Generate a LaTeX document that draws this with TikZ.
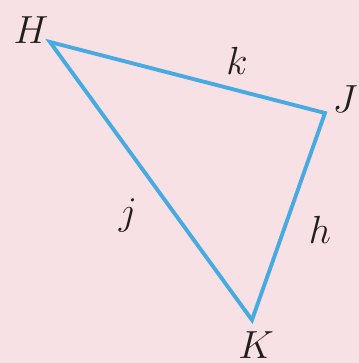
\documentclass[tikz,border=0pt]{standalone}
\definecolor{bgpink}{RGB}{248,225,229}
\definecolor{sideblue}{RGB}{72,170,226}
\definecolor{inkdark}{RGB}{35,30,30}
\newcommand{\vlab}[1]{\scalebox{1.55}{\Large$#1$}}
\tikzset{
  side/.style={draw=sideblue, line width=2.2pt, line join=miter},
  lbl/.style={inner sep=0pt, text=inkdark}
}
\begin{document}
\begin{tikzpicture}[scale=1]
      \fill[bgpink] (0,0) rectangle (7.18,-7.26);
      \coordinate (h) at (1.0,-0.84);
      \coordinate (jv) at (6.5,-2.26);
      \coordinate (kv) at (5.04,-6.4);
      \draw[side] (h) -- (jv) -- (kv) -- cycle;
      \node[lbl] (labH) at (0.62,-0.6) {\vlab{H}};
      \node[lbl] (labJ) at (6.9,-1.98) {\vlab{J}};
      \node[lbl] (labK) at (5.12,-6.9) {\vlab{K}};
      \node[lbl] (labk) at (4.74,-1.22) {\vlab{k}};
      \node[lbl] (labj) at (2.56,-4.3) {\vlab{j}};
      \node[lbl] (labh) at (6.4,-4.6) {\vlab{h}};
    \end{tikzpicture}
\end{document}
